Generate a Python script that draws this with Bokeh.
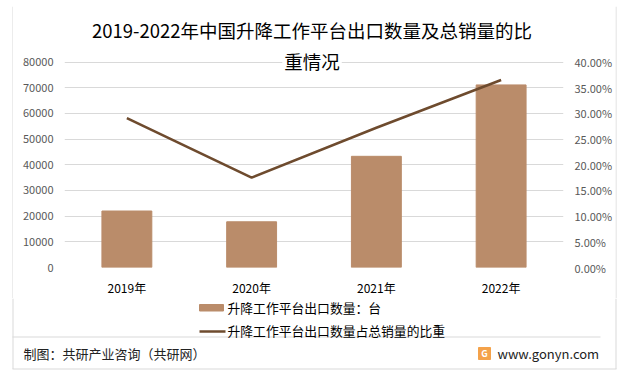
from bokeh.plotting import figure
from bokeh.layouts import column, row
from bokeh.models import (Range1d, LinearAxis, FixedTicker, NumeralTickFormatter,
                          BasicTickFormatter, Label)
from bokeh.embed import file_html
from bokeh.resources import INLINE

years = ["2019年", "2020年", "2021年", "2022年"]
export_qty = [22000, 17800, 43300, 71100]
share = [0.291, 0.175, 0.272, 0.365]
left_ticks = [0, 10000, 20000, 30000, 40000, 50000, 60000, 70000, 80000]
right_ticks = [0, 0.05, 0.10, 0.15, 0.20, 0.25, 0.30, 0.35, 0.40]
title_lines = ["2019-2022年中国升降工作平台出口数量及总销量的比", "重情况"]
legend_bar = "升降工作平台出口数量：台"
legend_line = "升降工作平台出口数量占总销量的比重"
footer_left = "制图：共研产业咨询（共研网）"
footer_right = "www.gonyn.com"

FONT = "Noto Sans CJK SC"
BAR = "#BA8C6A"
LINE = "#6E4B2E"
GRID = "#D9D9D9"

# page geometry (px); content starts at page (0,0)
W = 624
BL, BR, BT, BB = 12, 615, 5, 368     # outer frame lines
FL, FR, FT0, FB = 64, 565, 62, 269   # plot area of the chart (80000 line at FT0)
TOP = 6                      # chart frame top (frame also holds the title)
SPLIT = 298                  # page y where footer figure starts
BOTTOM = 372

idx = list(range(len(years)))
ext = (FB - TOP) / (FB - FT0)


def blank(width, height, xr, yr):
    fig = figure(width=width, height=height, output_backend="svg", toolbar_location=None,
                 x_range=Range1d(*xr), y_range=Range1d(*yr), min_border=0,
                 min_border_left=0, min_border_right=0, min_border_top=0, min_border_bottom=0)
    fig.axis.visible = False
    fig.grid.visible = False
    fig.outline_line_color = None
    fig.background_fill_color = "white"
    fig.border_fill_color = "white"
    return fig


# header strip with the top frame line
hdr = blank(W, TOP, (0, W), (TOP, 0))
hdr.segment(x0=[BL], x1=[BR + 1], y0=[BT + 0.5], y1=[BT + 0.5], line_color=GRID, line_width=1)

# side strips with the frame lines
lft = blank(BL + 1, SPLIT - TOP, (0, BL + 1), (SPLIT, TOP))
lft.segment(x0=[BL + 0.5], x1=[BL + 0.5], y0=[TOP], y1=[SPLIT], line_color=GRID, line_width=1)
rgt = blank(W - BR, SPLIT - TOP, (BR, W), (SPLIT, TOP))
rgt.segment(x0=[BR + 0.5], x1=[BR + 0.5], y0=[TOP], y1=[SPLIT], line_color=GRID, line_width=1)

CW = BR - (BL + 1)
p = figure(width=CW, height=SPLIT - TOP, output_backend="svg", toolbar_location=None,
           x_range=Range1d(-0.5, len(years) - 0.5), y_range=Range1d(0, 80000 * ext),
           min_border_left=FL - (BL + 1), min_border_right=BR - FR,
           min_border_top=0, min_border_bottom=SPLIT - FB)
p.extra_y_ranges = {"pct": Range1d(0, 0.4 * ext), "py": Range1d(FB, TOP)}
p.extra_x_ranges = {"px": Range1d(FL, FR)}
p.outline_line_color = None
p.background_fill_color = "white"
p.border_fill_color = "white"

p.vbar(x=idx, top=export_qty, width=0.4, color=BAR)
p.line(x=idx, y=share, y_range_name="pct", line_color=LINE, line_width=2.6)

p.xgrid.grid_line_color = None
p.ygrid.grid_line_color = GRID
p.ygrid.ticker = FixedTicker(ticks=left_ticks)


def style_axis(ax, size, color, standoff):
    ax.axis_line_color = None
    ax.major_tick_line_color = None
    ax.minor_tick_line_color = None
    ax.major_tick_out = 0
    ax.major_tick_in = 0
    ax.minor_tick_out = 0
    ax.major_label_text_font = FONT
    ax.major_label_text_font_size = size
    ax.major_label_text_color = color
    ax.major_label_standoff = standoff


ya = p.yaxis[0]
ya.ticker = FixedTicker(ticks=left_ticks)
ya.formatter = BasicTickFormatter(use_scientific=False)
style_axis(ya, "11px", "#595959", 11)

ra = LinearAxis(y_range_name="pct", ticker=FixedTicker(ticks=right_ticks),
                formatter=NumeralTickFormatter(format="0.00%"))
style_axis(ra, "11px", "#595959", 11)
p.add_layout(ra, "right")

xa = p.xaxis[0]
xa.ticker = FixedTicker(ticks=idx)
xa.major_label_overrides = {i: y for i, y in zip(idx, years)}
style_axis(xa, "12px", "#000000", 11)

for yy, txt in ((30, title_lines[0]), (61, title_lines[1])):
    p.add_layout(Label(x=(FL + FR) / 2 - 2, y=yy, x_range_name="px", y_range_name="py",
                       text=txt, text_font=FONT, text_font_size="18.5px", text_color="#000000",
                       text_align="center", text_baseline="middle",
                       background_fill_color="white", padding=2))

# footer figure: legend, divider, source line, frame edges
f = blank(W, BOTTOM - SPLIT, (0, W), (BOTTOM, SPLIT))
f.quad(left=[199], right=[223], top=[304], bottom=[310.5], color=BAR)
f.segment(x0=[199], x1=[225], y0=[331], y1=[331], line_color=LINE, line_width=2.5)
f.segment(x0=[BL], x1=[600], y0=[336.5], y1=[336.5], line_color=GRID, line_width=1)
f.segment(x0=[BL + 0.5, BR + 0.5, BL], x1=[BL + 0.5, BR + 0.5, BR + 1],
          y0=[SPLIT, SPLIT, BB + 0.5], y1=[BB + 0.5, BB + 0.5, BB + 0.5],
          line_color=GRID, line_width=1)
f.quad(left=[478], right=[490], top=[347], bottom=[359], color="#F4A24A")


def flab(x, y, text, size, color="#000000", align="left", weight="normal"):
    f.add_layout(Label(x=x, y=y, text=text, text_font=FONT, text_font_size=size,
                       text_color=color, text_align=align, text_baseline="middle",
                       text_font_style=weight))


flab(227, 307, legend_bar, "12.8px")
flab(227, 330, legend_line, "12.8px")
flab(23, 353, footer_left, "13px", "#222222")
flab(484, 353, "G", "9px", "white", "center", "bold")
flab(497, 353, footer_right, "13px", "#222222")

for fig in (hdr, lft, p, rgt, f):
    if "frame_align" in fig.properties():
        fig.frame_align = False

page = column(hdr, row(lft, p, rgt, spacing=0), f, spacing=0)

open("out.html", "w").write(file_html(page, INLINE))
